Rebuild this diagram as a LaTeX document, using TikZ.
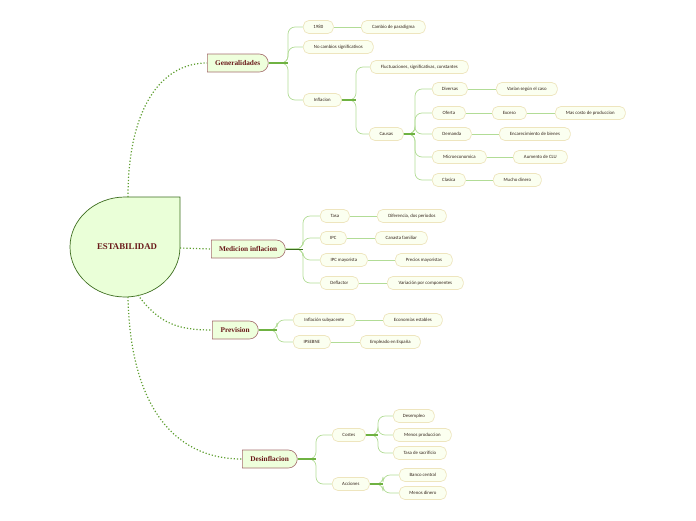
\documentclass[tikz,border=0pt]{standalone}
\usepackage{fontspec}
\usetikzlibrary{shapes.misc,calc}
\newfontfamily\subf{Carlito}
\newfontfamily\mainf{Liberation Serif}
\definecolor{dotc}{HTML}{5E9E30}
\definecolor{stubc}{HTML}{6FB242}
\definecolor{brc}{HTML}{B2DC96}
\definecolor{subfill}{HTML}{FBFFF0}
\definecolor{subdraw}{HTML}{EEE5BE}
\definecolor{mainfill}{HTML}{EEFFDC}
\definecolor{maindraw}{HTML}{A46C6C}
\definecolor{maintext}{HTML}{6A1A1A}
\definecolor{centfill}{HTML}{EAFFD8}
\definecolor{centdraw}{HTML}{3C6C1E}
\definecolor{subtext}{HTML}{33241A}
\tikzset{
  mainnode/.style={rounded rectangle, rounded rectangle west arc=none, draw=maindraw, fill=mainfill,
    line width=0.6pt, font=\mainf\bfseries\fontsize{7.3}{8}\selectfont, text=maintext,
    minimum height=18pt, inner xsep=3pt, inner ysep=0pt, anchor=west},
  subnode/.style={rectangle, rounded corners=5.5pt, draw=subdraw, fill=subfill, line width=0.7pt,
    font=\subf\fontsize{4.8}{5.5}\selectfont, text=subtext, minimum height=13pt,
    inner xsep=3pt, inner ysep=0pt, anchor=west},
  wd/.style={minimum width=#1pt},
  dotline/.style={draw=dotc, dotted, line width=1.2pt},
  stub/.style={draw=stubc, line width=1.4pt},
  br/.style={draw=brc, line width=0.7pt, rounded corners=7pt},
  leaf/.style={draw=brc, line width=1pt},
}
\begin{document}
\begin{tikzpicture}[x=1pt,y=-1pt]
\useasboundingbox (0,0) rectangle (696,520);
% central shape
\filldraw[fill=centfill, draw=centdraw, line width=0.7pt]
  (125,197) -- (180,197) -- (180,247) arc[start angle=0, end angle=270, x radius=55, y radius=50] -- cycle;
\node[font=\mainf\bfseries\fontsize{8.8}{10}\selectfont, text=maintext] (c) at (127,247) {ESTABILIDAD};
\coordinate (cTop) at (128,197);
\coordinate (cRight) at (180,248);
\coordinate (cBR) at (138,295);
\coordinate (cBot) at (128,297);

% main nodes
\node[mainnode, wd=67] (gen) at (207,63) {Generalidades};
\node[mainnode, wd=80] (med) at (211,249) {Medicion inflacion};
\node[mainnode, wd=52] (prev) at (212,330) {Prevision};
\node[mainnode, wd=61] (des) at (242,459) {Desinflacion};

% main connectors
\draw[dotline] (cTop) .. controls (128,110) and (160,63) .. (gen.west);
\draw[dotline] (cRight) -- (med.west);
\draw[dotline] (cBR) .. controls (160,325) and (180,330) .. (prev.west);
\draw[dotline] (cBot) .. controls (130,400) and (170,459) .. (des.west);

% Generalidades subtree
\node[subnode, wd=30] (g1) at (303,27) {1980};
\node[subnode, wd=64] (g1a) at (361,27) {Cambio de paradigma};
\node[subnode, wd=70] (g2) at (303,47) {No cambios significativos};
\node[subnode, wd=38] (g3) at (303,100) {Inflacion};
\node[subnode, wd=98] (g31) at (370,67) {Fluctuaciones, significativas, constantes};
\node[subnode, wd=34] (g32) at (369,134) {Causas};
\node[subnode, wd=35] (c1) at (432,89) {Diversas};
\node[subnode, wd=61] (c1a) at (496,89) {Varían según el caso};
\node[subnode, wd=33] (c2) at (432,113) {Oferta};
\node[subnode, wd=34] (c2a) at (492,113) {Exceso};
\node[subnode, wd=70] (c2b) at (555,113) {Mas costo de produccion};
\node[subnode, wd=39] (c3) at (432,134) {Demanda};
\node[subnode, wd=71] (c3a) at (499,134) {Encarecimiento de bienes};
\node[subnode, wd=54] (c4) at (432,157) {Microeconomica};
\node[subnode, wd=54] (c4a) at (513,157) {Aumento de CLU};
\node[subnode, wd=33] (c5) at (432,180) {Clasica};
\node[subnode, wd=48] (c5a) at (493,180) {Mucho dinero};

\coordinate (jg) at (288,63);
\coordinate (jg3) at (356,100);
\coordinate (jc) at (415,134);
\foreach \ch in {g1,g2,g3} \draw[br] (gen.east) -- (jg) |- (\ch.west);
\draw[stub] (gen.east) -- (jg);
\foreach \ch in {g31,g32} \draw[br] (g3.east) -- (jg3) |- (\ch.west);
\draw[stub] (g3.east) -- (jg3);
\foreach \ch in {c1,c2,c3,c4,c5} \draw[br] (g32.east) -- (jc) |- (\ch.west);
\draw[stub] (g32.east) -- (jc);
\draw[leaf] (g1) -- (g1a);
\draw[leaf] (c1) -- (c1a);
\draw[leaf] (c2) -- (c2a);
\draw[leaf] (c2a) -- (c2b);
\draw[leaf] (c3) -- (c3a);
\draw[leaf] (c4) -- (c4a);
\draw[leaf] (c5) -- (c5a);

% Medicion subtree
\node[subnode, wd=29] (m1) at (320,216) {Tasa};
\node[subnode, wd=69] (m1a) at (377,216) {Diferencia, dos periodos};
\node[subnode, wd=26] (m2) at (320,238) {IPC};
\node[subnode, wd=52] (m2a) at (375,238) {Canasta familiar};
\node[subnode, wd=47] (m3) at (320,260) {IPC mayorista};
\node[subnode, wd=57] (m3a) at (395,260) {Precios mayoristas};
\node[subnode, wd=38] (m4) at (320,283) {Deflactor};
\node[subnode, wd=76] (m4a) at (387,283) {Variación por componentes};
\coordinate (jm) at (303,249);
\foreach \ch in {m1,m2,m3,m4} \draw[br] (med.east) -- (jm) |- (\ch.west);
\draw[stub, line width=1pt, draw=centdraw] (med.east) -- (jm);
\draw[leaf] (m1) -- (m1a);
\draw[leaf] (m2) -- (m2a);
\draw[leaf] (m3) -- (m3a);
\draw[leaf] (m4) -- (m4a);

% Prevision subtree
\node[subnode, wd=62] (p1) at (293,320) {Inflación subyacente};
\node[subnode, wd=59] (p1a) at (383,320) {Economías estables};
\node[subnode, wd=37] (p2) at (293,342) {IPSEBNE};
\node[subnode, wd=60] (p2a) at (360,342) {Empleado en España};
\coordinate (jp) at (277,330);
\foreach \ch in {p1,p2} \draw[br] (prev.east) -- (jp) |- (\ch.west);
\draw[stub] (prev.east) -- (jp);
\draw[leaf] (p1) -- (p1a);
\draw[leaf] (p2) -- (p2a);

% Desinflacion subtree
\node[subnode, wd=33] (d1) at (332,435) {Costes};
\node[subnode, wd=41] (d11) at (393,416) {Desempleo};
\node[subnode, wd=58] (d12) at (393,435) {Menos produccion};
\node[subnode, wd=53] (d13) at (393,453) {Tasa de sacrificio};
\node[subnode, wd=37] (d2) at (332,484) {Acciones};
\node[subnode, wd=47] (d21) at (399,475) {Banco central};
\node[subnode, wd=47] (d22) at (399,493) {Menos dinero};
\coordinate (jd) at (316,459);
\coordinate (jd1) at (378,435);
\coordinate (jd2) at (383,484);
\foreach \ch in {d1,d2} \draw[br] (des.east) -- (jd) |- (\ch.west);
\draw[stub] (des.east) -- (jd);
\foreach \ch in {d11,d12,d13} \draw[br] (d1.east) -- (jd1) |- (\ch.west);
\draw[stub] (d1.east) -- (jd1);
\foreach \ch in {d21,d22} \draw[br] (d2.east) -- (jd2) |- (\ch.west);
\draw[stub] (d2.east) -- (jd2);
\end{tikzpicture}
\end{document}
